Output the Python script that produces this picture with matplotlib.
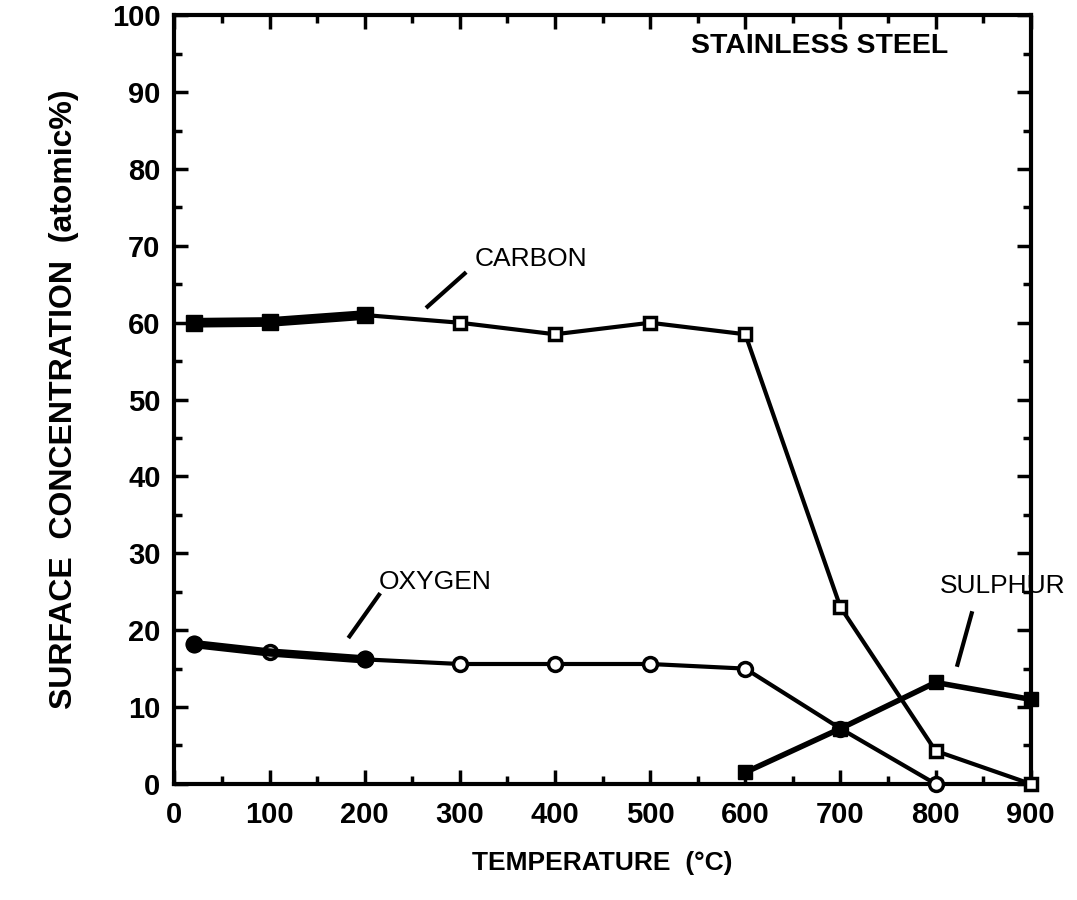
import matplotlib.pyplot as plt
from matplotlib.ticker import MultipleLocator

plt.rcParams['font.family'] = ['Liberation Sans', 'DejaVu Sans']

temp_c = [20, 100, 200, 300, 400, 500, 600, 700, 800, 900]
carbon = [60.0, 60.1, 61.0, 60.0, 58.5, 60.0, 58.5, 23.0, 4.3, 0.0]
temp_o = [20, 100, 200, 300, 400, 500, 600, 700, 800]
oxygen = [18.2, 17.1, 16.2, 15.6, 15.6, 15.6, 15.0, 7.2, 0.0]
temp_s = [600, 700, 800, 900]
sulphur = [1.5, 7.2, 13.2, 11.0]

fig = plt.figure(figsize=(10.77, 9), dpi=100)
ax = fig.add_axes([0.162, 0.129, 0.795, 0.854])

# main lines
ax.plot(temp_c, carbon, color='black', lw=3, marker='s', ms=9,
        mfc='white', mec='black', mew=2.5, zorder=3, clip_on=False)
ax.plot(temp_o, oxygen, color='black', lw=3, marker='o', ms=10,
        mfc='white', mec='black', mew=2.5, zorder=3, clip_on=False)
ax.plot(temp_s, sulphur, color='black', lw=4, marker='s', ms=10,
        mfc='black', mec='black', zorder=3, clip_on=False)

# heavier overlapped segments at low temperature
ax.plot(temp_c[:3], carbon[:3], color='black', lw=7, marker='s', ms=12,
        mfc='black', solid_capstyle='round', zorder=4)
ax.plot(temp_o[:3], oxygen[:3], color='black', lw=6, zorder=4,
        solid_capstyle='round')
ax.plot([temp_o[0], temp_o[2]], [oxygen[0], oxygen[2]], 'o', color='black',
        ms=12, zorder=5)

ax.set_xlim(0, 900)
ax.set_ylim(0, 100)
ax.xaxis.set_major_locator(MultipleLocator(100))
ax.xaxis.set_minor_locator(MultipleLocator(50))
ax.yaxis.set_major_locator(MultipleLocator(10))
ax.yaxis.set_minor_locator(MultipleLocator(5))
ax.tick_params(which='both', direction='in', top=True, right=True, width=2.5)
ax.tick_params(which='major', length=10, labelsize=21, pad=10)
ax.tick_params(axis='x', which='major', pad=12)
ax.tick_params(which='minor', length=6)
for lab in ax.get_xticklabels() + ax.get_yticklabels():
    lab.set_fontweight('bold')
for s in ax.spines.values():
    s.set_linewidth(3)

ax.set_xlabel('TEMPERATURE  (°C)', fontsize=19, fontweight='bold', labelpad=16)
ax.set_ylabel('SURFACE  CONCENTRATION  (atomic%)', fontsize=23,
              fontweight='bold', labelpad=24)

ax.text(678, 96, 'STAINLESS STEEL', fontsize=20.5, fontweight='bold',
        ha='center', va='center')
ax.text(375, 68.3, 'CARBON', fontsize=19, ha='center', va='center')
ax.plot([266, 305], [62.1, 66.4], color='black', lw=3)
ax.text(274, 26.3, 'OXYGEN', fontsize=19, ha='center', va='center')
ax.plot([184, 215], [19.2, 24.6], color='black', lw=3)
ax.text(871, 25.7, 'SULPHUR', fontsize=19, ha='center', va='center')
ax.plot([823, 838], [15.5, 22.2], color='black', lw=3)

fig.savefig('out.png', dpi=100)
